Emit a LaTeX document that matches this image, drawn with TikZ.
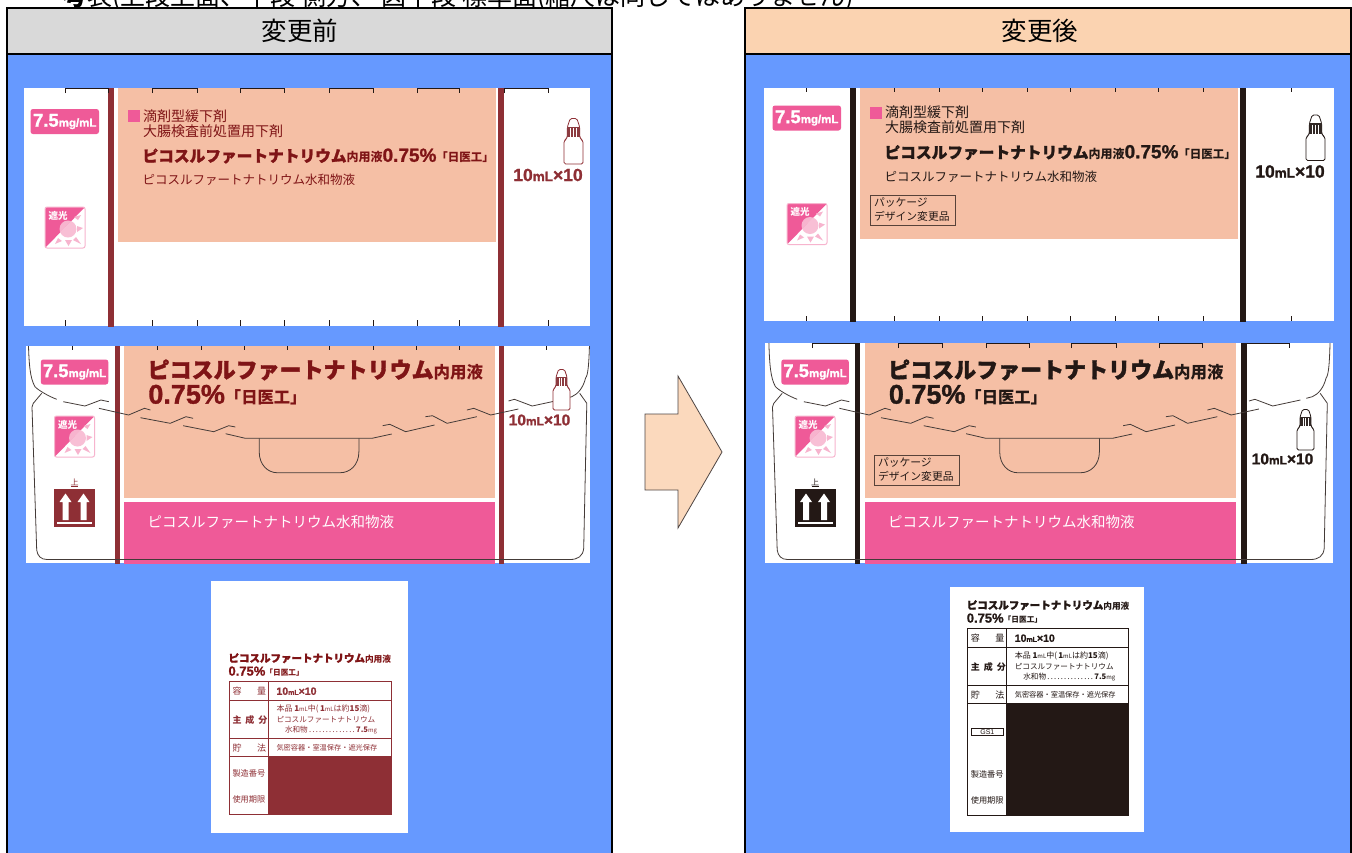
\documentclass[tikz,border=0pt]{standalone}
\usepackage{fontspec}
\setmainfont{Noto Sans CJK JP}
\newfontfamily\lat{Liberation Sans}[BoldFeatures={FakeBold=1.2}]
\newfontfamily\heavy{Noto Sans CJK JP Black}[FakeBold=1.6]
\newcommand\fs[1]{\fontsize{#1}{#1}\selectfont}
\definecolor{panelblue}{HTML}{6699FF}
\definecolor{headgray}{HTML}{D9D9D9}
\definecolor{headpeach}{HTML}{FBD3B1}
\definecolor{arrowpeach}{HTML}{FBD9BD}
\definecolor{salmon}{HTML}{F5BFA5}
\definecolor{rosepink}{HTML}{EF5A98}
\definecolor{palerose}{HTML}{F7B4CE}
\definecolor{wine}{HTML}{8E2F35}
\definecolor{winetext}{HTML}{7F1416}
\definecolor{inkblack}{HTML}{231815}
\tikzset{
  txt/.style={inner sep=0pt,outer sep=0pt,anchor=west,text=\textc},
  ctxt/.style={inner sep=0pt,outer sep=0pt,anchor=center},
  thin line/.style={line width=0.8pt,draw=inkblack!85},
  frameline/.style={draw=black,line width=1.8pt},
  tickline/.style={draw=inkblack,line width=.7pt},
}
\def\mainc{black}
\def\textc{black}
% name, x, y, w, h
\newcommand\badge[5]{%
  \fill[rosepink,rounded corners=2.5pt] (#2,#3) rectangle ++(#4,#5);
  \node[ctxt,text=white] (#1) at ({#2+#4/2},{#3+#5/2}) {\lat\bfseries\fs{18.5}7.5\fs{11.5}mg/mL};
}
% name, x, y   (40 x 41 icon)
\newcommand\shadeicon[3]{%
  \begin{scope}[shift={(#2,#3)}]
    \fill[white] (0,0) rectangle (40,41);
    \begin{scope}
      \clip[rounded corners=2pt] (0,0) rectangle (40,41);
      \fill[rosepink] (0,0) -- (40,0) -- (0,41) -- cycle;
      \begin{scope}
        \clip (40,0) -- (0,41) -- (0,0) -- cycle;
        \fill[palerose] (23,22) circle (8.5);
      \end{scope}
      \begin{scope}
        \clip (40,0) -- (0,41) -- (40,41) -- cycle;
        \fill[palerose!85!white] (23,22) circle (8.5);
      \end{scope}
      \fill[palerose] (32,19) -- (38,21) -- (32,25) -- cycle;
      \fill[palerose] (20,33) -- (27,33) -- (23.5,39) -- cycle;
      \fill[palerose] (13,31) -- (17,34) -- (10,37) -- cycle;
      \fill[palerose] (31,30) -- (28,33) -- (36,37) -- cycle;
      \fill[palerose] (29,10) -- (33,13) -- (36,8) -- cycle;
    \end{scope}
    \draw[palerose,line width=1pt,rounded corners=2pt] (0,0) rectangle (40,41);
    \node[ctxt,text=white] (#1) at (13,8.5) {\bfseries\fs{9.5}遮光};
  \end{scope}
}
% name, x, y
\newcommand\upicon[3]{%
  \begin{scope}[shift={(#2,#3)}]
    \fill[\mainc] (0,0) rectangle (41,38.5);
    \foreach \ax in {11.5,29.5}{
      \fill[white] (\ax,5) -- ({\ax+6},13.5) -- ({\ax+3},13.5) -- ({\ax+3},31.5) -- ({\ax-3},31.5) -- ({\ax-3},13.5) -- ({\ax-6},13.5) -- cycle;
    }
    \fill[white] (3,33.5) rectangle (38,35);
    \node[ctxt,text=\mainc] (#1) at (20.5,-6.5) {\fs{8}上};
    \draw[\mainc,line width=.5pt] (17,-2.5) -- (24,-2.5);
  \end{scope}
}
% name, x, y, scale  (17 x 41 bottle)
\newcommand\bottle[4]{%
  \begin{scope}[shift={(#2,#3)},scale=#4]
    \draw[\mainc,line width=.8pt,fill=white,rounded corners=1.5pt]
      (5.5,0.5) -- (11.5,0.5) -- (14,8) -- (14,17) -- (15,18.5) -- (17,20.5) -- (17,41) -- (0,41) -- (0,20.5) -- (2,18.5) -- (3,17) -- (3,8) -- cycle;
    \fill[\mainc!85!gray] (3,8) rectangle (14,17);
    \foreach \bx in {5.5,8,10.5}{\fill[white] (\bx,9) rectangle ++(0.6,8);}
    \node[inner sep=0pt] (#1) at (8.5,20) {};
  \end{scope}
}
% name, anchor x, y
\newcommand\packmark[3]{%
  \draw[inkblack!75!salmon,line width=.8pt] (#2,#3) rectangle ++(85,30);
  \node[ctxt,anchor=west,text=inkblack] (#1a) at ({#2+4},{#3+8}) {\fs{10.8}パッケージ};
  \node[ctxt,anchor=west,text=inkblack] (#1b) at ({#2+4},{#3+21.5}) {\fs{10.8}デザイン変更品};
}
% name, x0, x1, y1, dx, dy
\newcommand\upperpanel[6]{%
  \fill[white] (#2,88) rectangle (#3,#4);
  \begin{scope}
    \clip (#2,88) rectangle (#3,#4);
    \begin{scope}[shift={(#5,#6)}]
      \fill[salmon] (118,80) rectangle (495.5,242);
      \fill[\mainc] (108,80) rectangle (113.5,340);
      \fill[\mainc] (498,80) rectangle (504,340);
      \badge{#1badge}{30.5}{109}{68.5}{25}
      \fill[rosepink] (127.5,110) rectangle (139.7,122);
      \node[txt] (#1a) at (143,116) {\fs{14}滴剤型緩下剤};
      \node[txt] (#1b) at (143,131) {\fs{14}大腸検査前処置用下剤};
      \node[txt] (#1c) at (142.5,156) {\heavy\fs{15.7}ピコスルファートナトリウム\normalfont\bfseries\fs{12}内用液{\lat\fs{19}0.75\%}\fs{11.5}「日医工」};
      \node[txt] (#1d) at (142.5,180) {\fs{12.5}ピコスルファートナトリウム水和物液};
      \shadeicon{#1shade}{45}{207}
      \bottle{#1bot}{564}{118}{1.12}
      \node[ctxt,text=\mainc] (#1qty) at (548,175) {\lat\bfseries\fs{17.5}10\fs{13.5}mL\fs{17.5}×10};
    \end{scope}
  \end{scope}
}
% name, x0, x1, y0, dx, rightbar x
\newcommand\lowerpanel[6]{%
  \fill[white] (#2,#4) rectangle (#3,563);
  \begin{scope}
    \clip (#2,#4) rectangle (#3,563);
    \begin{scope}[shift={(#5,0)}]
      \fill[salmon] (124,330) rectangle (495.4,497.7);
      \fill[rosepink] (124,502.3) rectangle (495.4,570);
      \fill[\mainc] (114.8,330) rectangle (119.5,570);
      \fill[\mainc] ({#6-#5},330) rectangle ({#6-#5+5.5},570);
      \begin{scope}[thin line]
        \draw (28.3,340) .. controls (29,365) and (30,378) .. (35,386.7) .. controls (38,390) and (48,396) .. (56.7,399.3);
        \draw (41.7,393.3) -- (33.3,403.3) -- (32,407) -- (36.7,550) .. controls (37.5,556) and (41,559.5) .. (47,559.5) -- (570,559.5) .. controls (578,559.5) and (583,556) .. (583.7,548.3) -- (586.8,403.3) -- (579.7,393.3);
        \draw (589.6,340) .. controls (589,365) and (588,375) .. (585.6,378) .. controls (583,388) and (578,394) .. (571.8,396.7) -- (565.8,398.3);
        \draw (63.3,401.7) -- (85,406) -- (100.9,400) -- (108.8,401.7);
        \draw (98.9,408.3) -- (128.6,415) -- (144.4,408.3) -- (150.4,410);
        \draw (140.5,417.7) -- (170.2,423.3) -- (186,416.7) -- (193.1,418.3);
        \draw (183.2,425.7) -- (213.7,431.7) -- (228.7,425.7) -- (235.4,427);
        \draw (225.6,433.7) -- (245.3,438.3) -- (372,438.3) -- (391.7,434);
        \draw (382.6,425.7) -- (389.8,424.3) -- (405.6,431.7) -- (434.5,425);
        \draw (425.4,416.7) -- (432.5,415.7) -- (447.1,423.3) -- (476.8,416.7);
        \draw (466.9,410) -- (473.7,408.3) -- (490.7,415) -- (518.4,409);
        \draw (508.5,401) -- (514.4,399.3) -- (532.2,406) -- (559.9,400);
        \draw (259.2,438.3) -- (259.2,451.7) .. controls (259.2,465) and (268,472.7) .. (277,472.7) -- (340.3,472.7) .. controls (350,472.7) and (358.9,465) .. (358.9,451.7) -- (358.9,438.3);
      \end{scope}
      \badge{#1badge}{40.8}{359.5}{67.5}{25}
      \node[txt] (#1a) at (147.6,370) {\heavy\fs{22}ピコスルファートナトリウム\normalfont\bfseries\fs{16.5}内用液};
      \node[txt] (#1b) at (148.4,395) {\lat\bfseries\fs{27}0.75\%\normalfont\bfseries\fs{16.3}「日医工」};
      \shadeicon{#1shade}{54.5}{416}
      \upicon{#1up}{54}{488.5}
      \node[txt,text=white] (#1c) at (147.6,521.7) {\fs{14.5}ピコスルファートナトリウム水和物液};
    \end{scope}
  \end{scope}
}
% name, x0, y0, w, h, y serial, y expiry
\newcommand\druglabel[7]{%
  \begin{scope}[shift={(#2,#3)}]
    \node[txt] (#1a) at (-0.5,-23.5) {\heavy\fs{10.5}ピコスルファートナトリウム\normalfont\bfseries\fs{8.7}内用液};
    \node[txt] (#1b) at (-0.5,-10.3) {\lat\bfseries\fs{13}0.75\%\normalfont\bfseries\fs{7.7}「日医工」};
    \def\textc{\mainc}
    \fill[\mainc] (39.5,75) rectangle (#4,#5);
    \draw[\mainc,line width=.9pt] (0,0) rectangle (#4,#5);
    \draw[\mainc,line width=.9pt] (39.5,0) -- (39.5,#5);
    \draw[\mainc,line width=.9pt] (0,18.8) -- (#4,18.8);
    \draw[\mainc,line width=.9pt] (0,57) -- (#4,57);
    \draw[\mainc,line width=.9pt] (0,75) -- (#4,75);
    \node[txt] (#1c) at (3.5,9.5) {\fs{9}容};
    \node[txt] (#1d) at (28,9.5) {\fs{9}量};
    \node[txt] (#1e) at (3.5,38) {\bfseries\fs{9}主\hspace{4pt}成\hspace{4pt}分};
    \node[txt] (#1f) at (3.5,66.5) {\fs{9}貯};
    \node[txt] (#1g) at (28,66.5) {\fs{9}法};
    \node[txt] (#1h) at (3.5,#6) {\fs{8.2}製造番号};
    \node[txt] (#1i) at (3.5,#7) {\fs{8.2}使用期限};
    \node[txt] (#1j) at (47.5,9.5) {\lat\bfseries\fs{10.5}10\fs{7}mL\fs{10.5}×10};
    \node[txt] (#1k) at (47.5,27.5) {\fs{8}本品 {\bfseries 1}\fs{6}mL\fs{8}中(\,{\bfseries 1}\fs{6}mL\fs{8}は約{\bfseries 15}滴)};
    \node[txt] (#1l) at (47.5,38) {\fs{7.6}ピコスルファートナトリウム};
    \node[txt] (#1m) at (56,48.5) {\hbox to 92pt{\fs{7.6}水和物\dotfill{\bfseries 7.5}\fs{6}mg}};
    \node[txt] (#1n) at (47.5,66.5) {\fs{7.2}気密容器・室温保存・遮光保存};
  \end{scope}
}
\begin{document}
\begin{tikzpicture}[x=1pt,y=-1pt]
\useasboundingbox (0,0) rectangle (1352,852);
\fill[white] (0,0) rectangle (1352,852);
% clipped caption line at the very top
\begin{scope}
  \clip (0,0) rectangle (1352,7);
  \node[inner sep=0pt,anchor=base west] (caption) at (62,5) {\bfseries\fs{25}考\mdseries 表(上段上面、下段 側方、 図下段 標準面(縮尺は同じではありません)};
\end{scope}
% left panel
\fill[panelblue] (7,54) rectangle (612,853);
\fill[headgray] (7,8) rectangle (612,54);
\draw[frameline] (7,853) -- (7,8) -- (612,8) -- (612,853);
\draw[frameline] (7,54) -- (612,54);
\node[ctxt] (headL) at (300,31) {\fs{25.5}変更前};
% right panel
\fill[panelblue] (745,54) rectangle (1351,853);
\fill[headpeach] (745,8) rectangle (1351,54);
\draw[frameline] (745,853) -- (745,8) -- (1351,8) -- (1351,853);
\draw[frameline] (745,54) -- (1351,54);
\node[ctxt] (headR) at (1040,31) {\fs{25.5}変更後};
% arrow
\draw[draw=inkblack!80,line width=.8pt,fill=arrowpeach] (645,414) -- (678,414) -- (678,376) -- (722,452) -- (678,528) -- (678,490) -- (645,490) -- cycle;
%
% ---- before
\def\mainc{wine}
\def\textc{winetext}
\upperpanel{ul}{24}{589.6}{326}{0}{0}
\foreach \xa/\xb in {65/108,152/197,240/284.5,329/373,417/459,504/548}{
  \draw[tickline] (\xa,93) -- (\xa,88.5) -- (\xb,88.5) -- (\xb,93);
}
\foreach \xa in {65,152,197,240,284.5,329,373,417,459,548}{
  \draw[tickline] (\xa,320) -- (\xa,326);
}
\lowerpanel{ll}{26}{590}{346}{0}{498.5}
\bottle{llbot}{553}{369}{1}
\node[ctxt,text=wine] (llqty) at (539.5,420) {\lat\bfseries\fs{15.5}10\fs{12}mL\fs{15.5}×10};
\foreach \xa in {72.4,157.5,201.4,244.5,287.7,329.6,373.5,416.7,459.4,546}{
  \draw[tickline] (\xa,346) -- (\xa,349.5);
}
\fill[white] (211,581) rectangle (408,833);
\druglabel{lb}{229}{681.7}{162.7}{132.6}{91.6}{117.3}
%
% ---- after
\def\mainc{inkblack}
\def\textc{inkblack}
\upperpanel{ur}{764}{1334}{321}{742}{-3.5}
\foreach \xa in {806.6,894.7,939.3,982.8,1027,1070.5,1115,1158.6,1203,1291.4}{
  \draw[tickline] (\xa,88) -- (\xa,92);
  \draw[tickline] (\xa,316) -- (\xa,321);
}
\packmark{um}{870}{195}
\lowerpanel{lr}{765}{1333}{343}{740.5}{1241}
\bottle{lrbot}{1297}{409}{1}
\node[ctxt,text=inkblack] (lrqty) at (1282.5,459) {\lat\bfseries\fs{15.5}10\fs{12}mL\fs{15.5}×10};
\foreach \xa/\xb in {812.4/856,898.6/942.8,986/1029,1071.7/1116,1159/1202,1246/1289}{
  \draw[tickline] (\xa,348) -- (\xa,343.5) -- (\xb,343.5) -- (\xb,348);
}
\packmark{lm}{874}{455}
\fill[white] (950,587) rectangle (1144,832);
\druglabel{rb}{967.3}{628.7}{160.7}{186.3}{145.6}{171.3}
\draw[inkblack,line width=.9pt] (971,728) rectangle (1003.7,735.3);
\node[ctxt,text=inkblack] (gs) at (987.3,731.6) {\lat\fs{7}GS1};
\end{tikzpicture}
\end{document}
